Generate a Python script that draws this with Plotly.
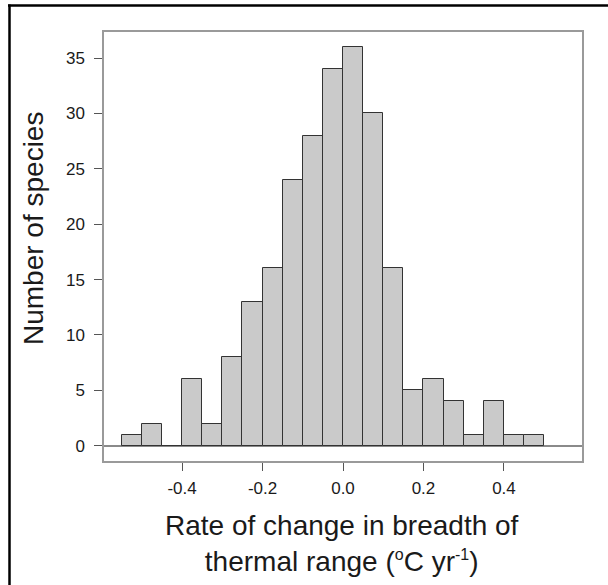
import plotly.graph_objects as go

# Histogram data
bin_start = -0.55
bin_width = 0.05
counts = [1, 2, 0, 6, 2, 8, 13, 16, 24, 28, 34, 36, 30, 16, 5, 6, 4, 1, 4, 1, 1]
x_tick_vals = [-0.4, -0.2, 0.0, 0.2, 0.4]
x_tick_text = ["-0.4", "-0.2", "0.0", "0.2", "0.4"]
y_tick_vals = [0, 5, 10, 15, 20, 25, 30, 35]

centers = [bin_start + bin_width * (i + 0.5) for i in range(len(counts))]

W, H = 608, 585
L, R, T, B = 104, 582, 32, 461
pw, ph = R - L, B - T

def px(xp):
    return (xp - L) / pw

def py(yp):
    return (B - yp) / ph

FONT = "Arial, 'Liberation Sans', sans-serif"

fig = go.Figure()
fig.add_trace(go.Bar(
    x=centers, y=counts, width=[bin_width] * len(counts),
    marker=dict(color="#cacaca", line=dict(color="#333333", width=1)),
    hoverinfo="x+y", showlegend=False,
))

fig.update_layout(
    width=W, height=H,
    margin=dict(l=L, r=W - R, t=T, b=H - B, pad=0),
    paper_bgcolor="white", plot_bgcolor="white",
    font=dict(family=FONT, color="#1a1a1a"),
    bargap=0,
    xaxis=dict(
        range=[-0.594, 0.594], tickvals=x_tick_vals, ticktext=x_tick_text,
        ticks="outside", ticklen=8, tickcolor="#555", tickwidth=1,
        tickfont=dict(size=17, color="#1a1a1a"),
        showline=True, linecolor="#9a9a9a", linewidth=1.5, mirror=True,
        showgrid=False, zeroline=False, ticklabelstandoff=3,
    ),
    yaxis=dict(
        range=[-1.38, 37.35], tickvals=y_tick_vals,
        ticks="outside", ticklen=8, tickcolor="#555", tickwidth=1,
        tickfont=dict(size=17, color="#1a1a1a"),
        showline=True, linecolor="#9a9a9a", linewidth=1.5, mirror=True,
        showgrid=False, zeroline=True, zerolinecolor="#8a8a8a", zerolinewidth=1.5,
        ticklabelstandoff=6,
    ),
    annotations=[
        dict(text="Number of species", textangle=-90, xref="paper", yref="paper",
             x=px(33), y=py(229), xanchor="center", yanchor="middle",
             showarrow=False, font=dict(size=28, family=FONT, color="#1a1a1a")),
        dict(text=("Rate of change in breadth of<br>thermal range "
                   "(<sup><span style='font-size:16px'>o</span></sup>C "
                   "yr<sup><span style='font-size:16px'>-1</span></sup>)"),
             xref="paper", yref="paper", x=px(342), y=py(543),
             xanchor="center", yanchor="middle", showarrow=False,
             font=dict(size=28, family=FONT, color="#1a1a1a")),
    ],
    shapes=[
        dict(type="line", xref="paper", yref="paper", x0=px(8), x1=px(608),
             y0=py(5.5), y1=py(5.5), line=dict(color="black", width=2.5)),
        dict(type="line", xref="paper", yref="paper", x0=px(9.5), x1=px(9.5),
             y0=py(4.5), y1=py(585), line=dict(color="black", width=2.5)),
    ],
)

fig.write_html(
    "out.html",
    config={"displayModeBar": False},
    post_script="document.body.style.margin='0';document.body.style.overflow='hidden';",
)
